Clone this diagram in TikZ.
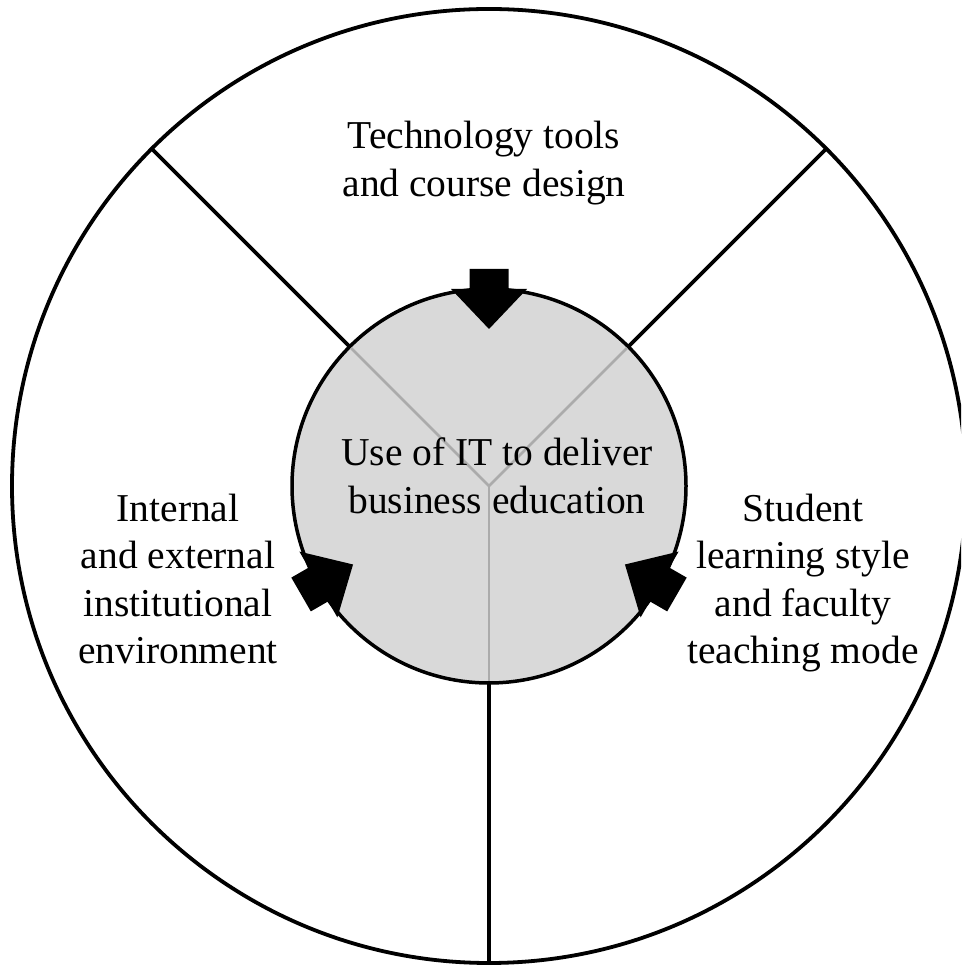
\documentclass[tikz,border=0pt]{standalone}
\usepackage{fontspec}
\setmainfont{Liberation Serif}
\definecolor{innerfill}{HTML}{D9D9D9}
\definecolor{innerline}{HTML}{ABABAB}
\begin{document}
\begin{tikzpicture}[x=1pt,y=1pt,
  lbl/.style={font=\fontsize{39.5}{47.6}\selectfont, align=center, inner sep=0pt},
  ring/.style={circle, inner sep=0pt, outer sep=0pt},
  spoke/.style={line width=3.8pt},
  innerspoke/.style={line width=2.7pt, draw=innerline, shorten >=1.8pt},
  blockarrow/.style={fill=black}]
\useasboundingbox (0,0) rectangle (961,965);
\clip (0,0) rectangle (961,965);
\coordinate (c) at (489,479);
\node[ring, draw, line width=3.8pt, minimum size=954pt] (outer) at (c) {};
\node[ring, draw, fill=innerfill, line width=3.5pt, minimum size=394pt] (inner) at (c) {};
% black spokes between the circles
\draw[spoke] (inner.135) -- (outer.135);
\draw[spoke] (inner.45) -- (outer.45);
\draw[spoke] (inner.270) -- (outer.270);
% grey spokes inside the inner circle
\draw[innerspoke] (c) -- (inner.135);
\draw[innerspoke] (c) -- (inner.45);
\draw[innerspoke] (c) -- (inner.270);
% block arrows pointing to the centre
\foreach \a in {90,210,330}{
  \begin{scope}[shift={(c)}, rotate=\a]
    \fill[blockarrow] (217,19.5) -- (197,19.5) -- (197,38) -- (157,0)
      -- (197,-38) -- (197,-19.5) -- (217,-19.5) -- cycle;
  \end{scope}
}
% labels
\node[lbl] (top) at (484,802) {Technology tools\\and course design};
\node[lbl] (mid) at (497,489.5) {Use of IT to deliver\\business education};
\node[lbl] (left) at (178,386) {Internal\\and external\\institutional\\environment};
\node[lbl] (right) at (803,382) {Student\\learning style\\and faculty\\teaching mode};
\end{tikzpicture}
\end{document}
